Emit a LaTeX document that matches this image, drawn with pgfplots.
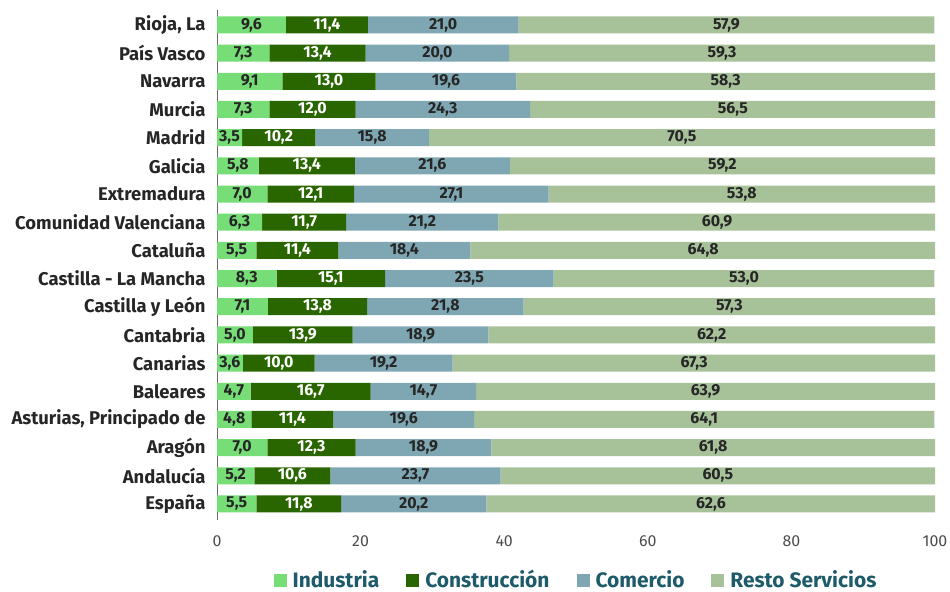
\documentclass[border=0pt]{standalone}
\usepackage{pgfplots}
\pgfplotsset{compat=1.18}
\usepackage{pgfplotstable}
\usepackage{fontspec}
\setmainfont{Fira Sans}
\pgfplotsset{/pgf/number format/assume math mode=true}
\definecolor{cind}{HTML}{77DD77}
\definecolor{ccon}{HTML}{2A6600}
\definecolor{ccom}{HTML}{7FA7B3}
\definecolor{cres}{HTML}{A7C299}
\definecolor{clegend}{HTML}{1D5B6A}
\definecolor{ctxt}{HTML}{262626}
\pgfplotstableread{
idx ind con com res
0 5.5 11.8 20.2 62.6
1 5.2 10.6 23.7 60.5
2 7.0 12.3 18.9 61.8
3 4.8 11.4 19.6 64.1
4 4.7 16.7 14.7 63.9
5 3.6 10.0 19.2 67.3
6 5.0 13.9 18.9 62.2
7 7.1 13.8 21.8 57.3
8 8.3 15.1 23.5 53.0
9 5.5 11.4 18.4 64.8
10 6.3 11.7 21.2 60.9
11 7.0 12.1 27.1 53.8
12 5.8 13.4 21.6 59.2
13 3.5 10.2 15.8 70.5
14 7.3 12.0 24.3 56.5
15 9.1 13.0 19.6 58.3
16 7.3 13.4 20.0 59.3
17 9.6 11.4 21.0 57.9
}\data
\begin{document}
\begin{tikzpicture}
\path[use as bounding box] (0bp,0bp) rectangle (950bp,592bp);
\pgfplotsset{myaxis/.style={at={(217bp,72bp)}, anchor=south west, scale only axis,
  width=718bp, height=510bp, xmin=0, xmax=100, ymin=-0.568, ymax=17.53}}
\begin{axis}[myaxis,
  xbar stacked, bar width=17bp,
  axis lines*=left,
  x axis line style={draw=none},
  y axis line style={draw=black!60, line width=1bp},
  xtick={0,20,40,60,80,100},
  major tick length=0pt,
  xticklabel style={font=\fontsize{16}{19}\selectfont, text=black!70, yshift=-12bp},
  ytick={0,...,17},
  yticklabels={España, Andalucía, Aragón, {Asturias, Principado de}, Baleares, Canarias, Cantabria, Castilla y León, Castilla - La Mancha, Cataluña, Comunidad Valenciana, Extremadura, Galicia, Madrid, Murcia, Navarra, País Vasco, {Rioja, La}},
  yticklabel style={font=\bfseries\fontsize{18.5}{21}\selectfont, text=ctxt, xshift=-8bp},
  legend style={at={(0.5,-0.117)}, anchor=center, draw=none, legend columns=4,
    font=\bfseries\fontsize{21}{24}\selectfont, text=clegend, inner sep=1bp,
    /tikz/every odd column/.append style={column sep=4bp},
    /tikz/every even column/.append style={column sep=25bp}},
  legend image code/.code={\fill[#1] (0bp,-7bp) rectangle (13bp,6bp);},
]
\addplot[fill=cind, draw=none] table[x=ind, y=idx] \data;
\addplot[fill=ccon, draw=none] table[x=con, y=idx] \data;
\addplot[fill=ccom, draw=none] table[x=com, y=idx] \data;
\addplot[fill=cres, draw=none] table[x=res, y=idx] \data;
\legend{Industria, Construcción, Comercio, Resto Servicios}
\end{axis}
\begin{axis}[myaxis, hide axis, clip=false,
  nodes near coords={\pgfmathprintnumber[fixed, fixed zerofill, precision=1, use comma]{\pgfplotspointmeta}},
  nodes near coords style={anchor=center, font=\bfseries\fontsize{16}{19}\selectfont, inner sep=0pt},
  point meta=explicit]
\addplot[draw=none, mark=none, nodes near coords style={text=ctxt}] table[x expr=\thisrow{ind}/2, y=idx, meta=ind] \data;
\addplot[draw=none, mark=none, nodes near coords style={text=white}] table[x expr=\thisrow{ind}+\thisrow{con}/2, y=idx, meta=con] \data;
\addplot[draw=none, mark=none, nodes near coords style={text=ctxt}] table[x expr=\thisrow{ind}+\thisrow{con}+\thisrow{com}/2, y=idx, meta=com] \data;
\addplot[draw=none, mark=none, nodes near coords style={text=ctxt}] table[x expr=\thisrow{ind}+\thisrow{con}+\thisrow{com}+\thisrow{res}/2, y=idx, meta=res] \data;
\end{axis}
\end{tikzpicture}
\end{document}
